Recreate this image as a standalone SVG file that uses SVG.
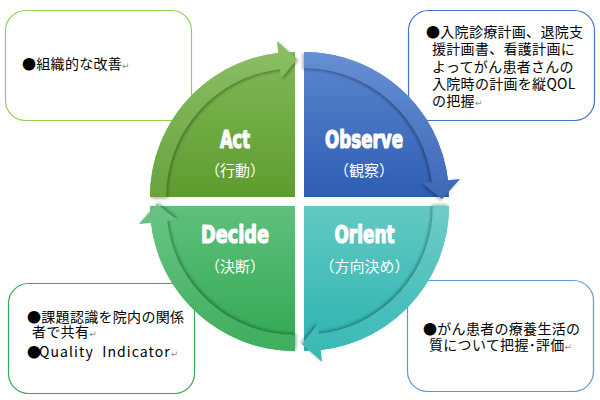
<svg xmlns="http://www.w3.org/2000/svg" xmlns:xlink="http://www.w3.org/1999/xlink" width="600" height="400" viewBox="0 0 600 400">
<style>
.box{fill:#fff;stroke-width:1.2}
.bt{font-family:"Noto Sans CJK JP","Noto Sans",sans-serif;font-size:14px;fill:#000;letter-spacing:0.3px}
.pm{font-family:"DejaVu Sans",sans-serif;font-size:9px;fill:#8c8c8c;letter-spacing:0}
.tt{font-family:"DejaVu Sans Condensed","DejaVu Sans",sans-serif;font-weight:bold;font-size:25px;fill:#fff;stroke:#fff;stroke-width:1.2;stroke-linejoin:round;text-anchor:middle}
.st{font-family:"Noto Sans CJK JP","Noto Sans",sans-serif;font-size:15px;fill:#fff;text-anchor:middle}
</style>
<defs>
<path id="quad" d="M0,0 H-145 A145,145 0 0 1 0,-145 Z"/>
<path id="arr" d="M-145,0 A145,145 0 0 1 -16.7,-144 L-18,-156 L2,-138 L-14,-118.2 L-14.9,-128.1 A129,129 0 0 0 -129,0 Z"/>
<filter id="sh" x="-20%" y="-20%" width="140%" height="140%">
<feDropShadow dx="1.5" dy="1.5" stdDeviation="1.4" flood-color="#000" flood-opacity="0.32"/>
</filter>
<linearGradient id="gA" gradientUnits="userSpaceOnUse" x1="0" y1="-145" x2="0" y2="0"><stop offset="0" stop-color="#80b957"/><stop offset="1" stop-color="#5e9c2f"/></linearGradient>
<linearGradient id="gO" gradientUnits="userSpaceOnUse" x1="-145" y1="0" x2="0" y2="0"><stop offset="0" stop-color="#5b87d0"/><stop offset="1" stop-color="#2f5db2"/></linearGradient>
<linearGradient id="gR" gradientUnits="userSpaceOnUse" x1="0" y1="0" x2="0" y2="-145"><stop offset="0" stop-color="#63c9c2"/><stop offset="1" stop-color="#2cb4b1"/></linearGradient>
<linearGradient id="gD" gradientUnits="userSpaceOnUse" x1="0" y1="0" x2="-145" y2="0"><stop offset="0" stop-color="#5fc07c"/><stop offset="1" stop-color="#30a851"/></linearGradient>
</defs>

<g id="box-act">
<rect class="box" x="5.5" y="10.5" width="186" height="110" rx="20" stroke="#92d050"/>
<text class="bt" x="22" y="69">●組織的な改善<tspan class="pm">↵</tspan></text>
</g>
<g id="box-observe">
<rect class="box" x="408.5" y="10.5" width="186" height="110" rx="20" stroke="#4472c4"/>
<text class="bt"><tspan x="426" y="37">●入院診療計画、退院支</tspan><tspan x="432" y="54">援計画書、看護計画に</tspan><tspan x="432" y="71.5">よってがん患者さんの</tspan><tspan x="432" y="88.5">入院時の計画を縦QOL</tspan><tspan x="432" y="105.5">の把握</tspan><tspan class="pm">↵</tspan></text>
</g>
<g id="box-decide">
<rect class="box" x="8.5" y="283.5" width="186" height="110" rx="20" stroke="#33a852"/>
<text class="bt"><tspan x="27" y="322">●課題認識を院内の関係</tspan><tspan x="32" y="337">者で共有</tspan><tspan class="pm">↵</tspan></text>
<text class="bt" x="27" y="357" xml:space="preserve">●<tspan x="39" textLength="131">Quality  Indicator</tspan><tspan class="pm">↵</tspan></text>
</g>
<g id="box-orient">
<rect class="box" x="407.5" y="280.5" width="186" height="111" rx="20" stroke="#5b9bd5"/>
<text class="bt"><tspan x="423" y="334">●がん患者の療養生活の</tspan><tspan x="429" y="350">質について把握･評価</tspan><tspan class="pm">↵</tspan></text>
</g>

<g id="act">
<g transform="translate(295,197)">
<use xlink:href="#quad" fill="url(#gA)"/>
<use xlink:href="#arr" fill="url(#gA)" filter="url(#sh)"/>
<use xlink:href="#arr" fill="#fff" fill-opacity="0.07"/>
</g>
<text class="tt" x="235" y="148" textLength="30" lengthAdjust="spacingAndGlyphs">Act</text>
<text class="st" x="235" y="175.5">（行動）</text>
</g>
<g id="observe">
<g transform="translate(304,197) rotate(90)">
<use xlink:href="#quad" fill="url(#gO)"/>
<use xlink:href="#arr" fill="url(#gO)" filter="url(#sh)"/>
<use xlink:href="#arr" fill="#fff" fill-opacity="0.07"/>
</g>
<text class="tt" x="364" y="148" textLength="78" lengthAdjust="spacingAndGlyphs">Observe</text>
<text class="st" x="364" y="175.5">（観察）</text>
</g>
<g id="orient">
<g transform="translate(304,206) rotate(180)">
<use xlink:href="#quad" fill="url(#gR)"/>
<use xlink:href="#arr" fill="url(#gR)" filter="url(#sh)"/>
<use xlink:href="#arr" fill="#fff" fill-opacity="0.07"/>
</g>
<text class="tt" x="364.5" y="243" textLength="60" lengthAdjust="spacingAndGlyphs">Orient</text>
<text class="st" x="364.5" y="271.5">（方向決め）</text>
</g>
<g id="decide">
<g transform="translate(295,206) rotate(270)">
<use xlink:href="#quad" fill="url(#gD)"/>
<use xlink:href="#arr" fill="url(#gD)" filter="url(#sh)"/>
<use xlink:href="#arr" fill="#fff" fill-opacity="0.07"/>
</g>
<text class="tt" x="235" y="243" textLength="68" lengthAdjust="spacingAndGlyphs">Decide</text>
<text class="st" x="235" y="271.5">（決断）</text>
</g>
<g id="connectors"></g>
</svg>
